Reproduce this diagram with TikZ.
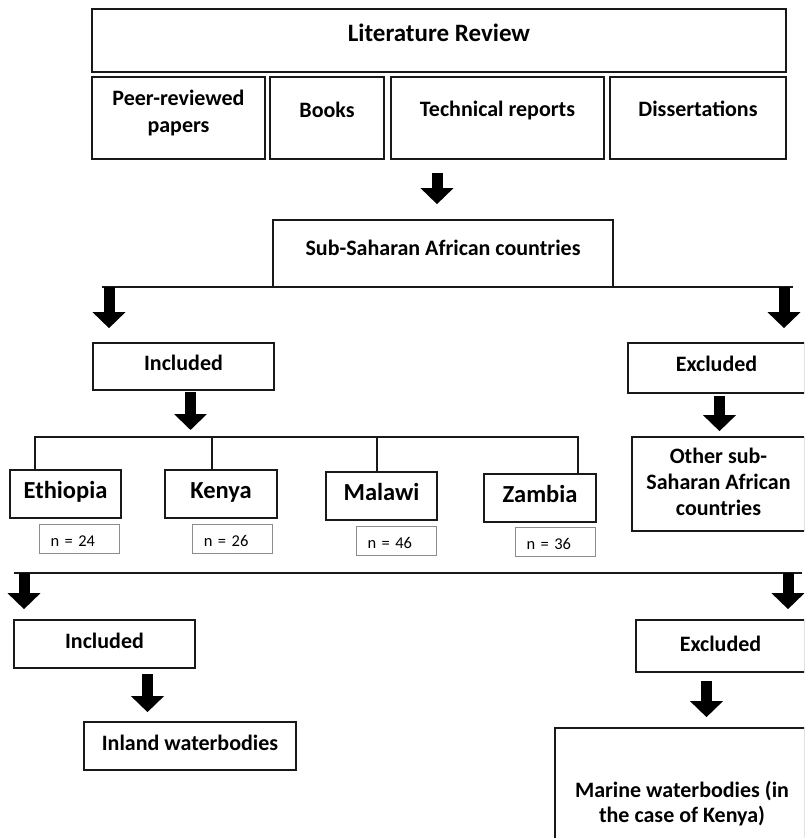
\documentclass[tikz,border=0pt]{standalone}
\usepackage{fontspec}
\setmainfont{Carlito}
\usetikzlibrary{arrows.meta,calc}
\begin{document}
\begin{tikzpicture}[x=1pt,y=-1pt,
  box/.style={draw=black!90, line width=1.7pt, rectangle, inner sep=2pt, align=center,
    font=\fontsize{22}{26.7}\selectfont\bfseries},
  litbox/.style={box, font=\fontsize{25}{30}\selectfont\bfseries},
  cbox/.style={box, font=\fontsize{24.5}{29}\selectfont\bfseries},
  txt/.style={inner sep=0pt, align=center, font=\fontsize{22}{26.5}\selectfont\bfseries},
  bl/.style 2 args={text height=#1pt, text depth=#2pt},
  nbox/.style={draw=black!45, line width=0.9pt, rectangle, inner xsep=11pt, inner ysep=1pt,
    text width=58pt, align=left, text height=17.5pt, text depth=2.5pt,
    minimum width=80pt, minimum height=29pt, font=\fontsize{16.5}{18}\selectfont},
  branch/.style={draw=black!90, line width=1.7pt},
  barrow/.style={line width=11pt, -{Triangle[width=32pt,length=16pt]}}]
\useasboundingbox (0,0) rectangle (804,838);
\begin{scope}
\clip (0,0) rectangle (804,838);
% top section
\node[litbox, bl={11.2}{8.8}, minimum width=694pt, minimum height=63pt] (lit) at (439,40.5) {Literature Review};
\node[box, minimum width=173pt, minimum height=82pt] (peer) at (178.5,118) {};
\node[txt] (peertxt) at (178.5,112.9) {Peer-reviewed\\papers};
\node[box, bl={9}{11}, minimum width=114pt, minimum height=82pt] (books) at (327,118) {Books};
\node[box, bl={8}{12}, minimum width=213pt, minimum height=82pt] (tech) at (497.5,118) {Technical reports};
\node[box, bl={8}{12}, minimum width=176pt, minimum height=82pt] (diss) at (698,118) {Dissertations};
\node[box, bl={12.2}{7.8}, minimum width=340pt, minimum height=67pt] (sub) at (443,253.5) {Sub-Saharan African countries};
\draw[barrow, shorten <=13pt, shorten >=15pt] ([xshift=-6pt]sub.north |- tech.south) -- ([xshift=-6pt]sub.north);
% first branch
\coordinate (b1L) at (102,287);
\coordinate (b1R) at (793,287);
\coordinate (a1L) at (109,287);
\coordinate (a1R) at (784,287);
\draw[branch] (b1L) -- (b1R);
\node[box, bl={13.5}{6.5}, minimum width=181pt, minimum height=47pt] (inc1) at (183.5,366.5) {Included};
\node[box, bl={13}{7}, minimum width=177pt, minimum height=50pt] (exc1) at (716.5,368) {Excluded};
\draw[barrow, shorten >=14pt] (a1L) -- (a1L |- inc1.north);
\draw[barrow, shorten >=14pt] (a1R) -- (a1R |- exc1.north);
% countries
\node[cbox, bl={14}{6}, minimum width=111pt, minimum height=48pt] (eth) at (65.5,494) {Ethiopia};
\node[cbox, bl={14}{6}, minimum width=112pt, minimum height=48pt] (ken) at (221,494) {Kenya};
\node[cbox, bl={14.5}{5.5}, minimum width=111pt, minimum height=48pt] (mal) at (381.5,496) {Malawi};
\node[cbox, bl={14.5}{5.5}, minimum width=112pt, minimum height=48pt] (zam) at (540,498) {Zambia};
\node[box, minimum width=173pt, minimum height=94pt] (other) at (718.5,484) {};
\node[txt, font=\fontsize{22}{26}\selectfont\bfseries] (othertxt) at (718.5,481.4) {Other sub-\\Saharan African\\countries};
\node[nbox] (neth) at (79.5,538.5) {n = 24};
\node[nbox] (nken) at (232.8,538.5) {n = 26};
\node[nbox] (nmal) at (396.5,540.5) {n = 46};
\node[nbox] (nzam) at (555.5,541.5) {n = 36};
\coordinate (b2L) at (35,437);
\coordinate (b2K) at (212,437);
\coordinate (b2M) at (377,437);
\coordinate (b2R) at (578,437);
\draw[barrow, shorten <=1pt, shorten >=7pt] ([xshift=7pt]inc1.south) -- ([xshift=7pt]inc1.south |- b2L);
\draw[barrow, shorten <=2pt, shorten >=5pt] ([xshift=3pt]exc1.south) -- ([xshift=3pt]exc1.south |- other.north);
\draw[branch] (b2L |- eth.north) -- (b2L) -- (b2R) -- (b2R |- zam.north);
\draw[branch] (b2K) -- (b2K |- ken.north);
\draw[branch] (b2M) -- (b2M |- mal.north);
% second branch
\coordinate (b3L) at (14,573);
\coordinate (b3R) at (802,573);
\coordinate (a3L) at (24,573);
\coordinate (a3R) at (788,573);
\draw[branch] (b3L) -- (b3R);
\node[box, bl={14}{6}, minimum width=181pt, minimum height=48pt] (inc2) at (104.5,644) {Included};
\node[box, bl={15}{5}, minimum width=169pt, minimum height=52pt] (exc2) at (720.5,646) {Excluded};
\draw[barrow, shorten >=10pt] (a3L) -- (a3L |- inc2.north);
\draw[barrow, shorten >=10pt] (a3R) -- (a3R |- exc2.north);
\node[box, bl={14.5}{5.5}, minimum width=212pt, minimum height=48pt] (inland) at (190,746) {Inland waterbodies};
\node[box, minimum width=250pt, minimum height=144pt] (marine) at (680,800) {};
\node[txt, font=\fontsize{22}{25.5}\selectfont\bfseries] (marinetxt) at (682,803.5) {Marine waterbodies (in\\the case of Kenya)};
\draw[barrow, shorten <=5pt, shorten >=9pt] ([xshift=43pt]inc2.south) -- ([xshift=43pt]inc2.south |- inland.north);
\draw[barrow, shorten <=8pt, shorten >=10pt] ([xshift=-14pt]exc2.south) -- ([xshift=-14pt]exc2.south |- marine.north);
\end{scope}
\end{tikzpicture}
\end{document}
